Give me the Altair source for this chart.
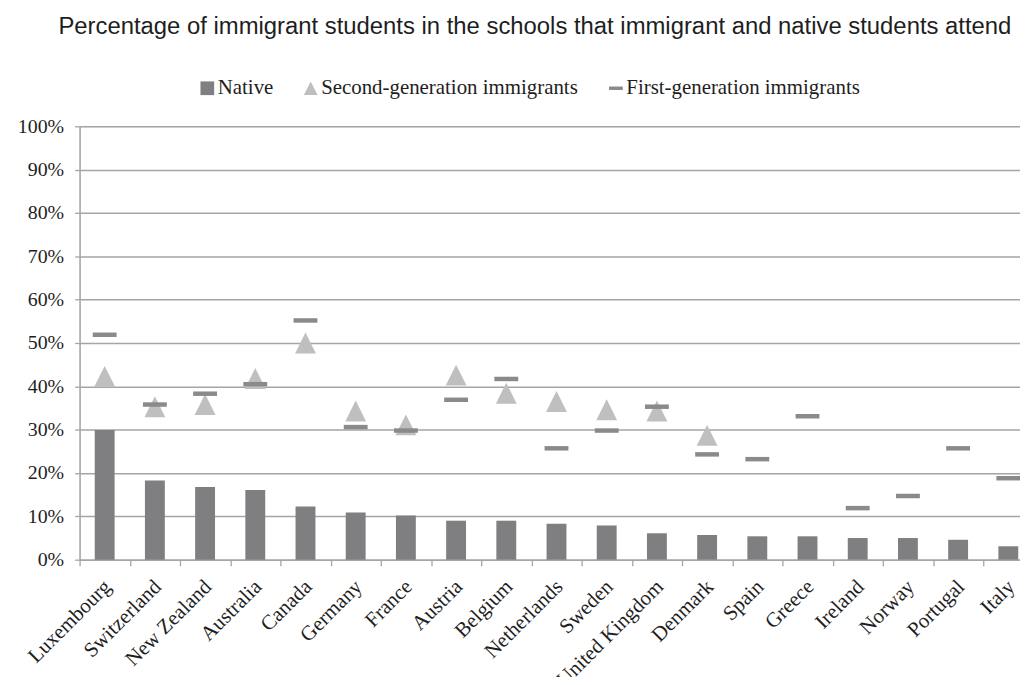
import altair as alt
import pandas as pd

countries = ["Luxembourg", "Switzerland", "New Zealand", "Australia", "Canada", "Germany",
             "France", "Austria", "Belgium", "Netherlands", "Sweden", "United Kingdom",
             "Denmark", "Spain", "Greece", "Ireland", "Norway", "Portugal", "Italy"]
native = [29.9, 18.3, 16.8, 16.1, 12.3, 10.9, 10.2, 9.0, 9.0, 8.3, 7.9, 6.1, 5.7, 5.4, 5.4, 5.0, 5.0, 4.6, 3.1]
second_gen = [42.3, 35.3, 35.8, 41.8, 50.0, 34.3, 31.1, 42.6, 38.4, 36.5, 34.6, 34.3, 28.7,
              None, None, None, None, None, None]
first_gen = [51.9, 35.8, 38.3, 40.5, 55.2, 30.6, 29.8, 36.9, 41.7, 25.7, 29.8, 35.3, 24.3,
             23.2, 33.1, 11.9, 14.7, 25.7, 18.8]
series = ["Native", "Second-generation immigrants", "First-generation immigrants"]
y_ticks = [0, 10, 20, 30, 40, 50, 60, 70, 80, 90, 100]

rows = []
for name, vals in zip(series, [native, second_gen, first_gen]):
    for c, v in zip(countries, vals):
        if v is not None:
            rows.append({"country": c, "series": name, "value": v})
df = pd.DataFrame(rows)

SERIF = "Liberation Serif"
TEXT = "#1e1e1e"
GRID = "#a5a5a5"

x = alt.X("country:N", sort=countries, title=None,
          scale=alt.Scale(domain=countries, range=[0, 959.5], paddingInner=0, paddingOuter=0),
          axis=alt.Axis(tickBand="extent", labelAngle=-45, labelAlign="right",
                        labelBaseline="alphabetic", labelOffset=7, labelPadding=22,
                        tickSize=6, tickColor=GRID, tickWidth=1.3, domainColor=GRID,
                        domainWidth=1.5, labelFont=SERIF, labelFontSize=21,
                        labelColor=TEXT, labelOverlap=False, labelBound=False,
                        labelFlush=False, labelLimit=300, grid=False))
y = alt.Y("value:Q", title=None,
          scale=alt.Scale(domain=[0, 100], nice=False),
          axis=alt.Axis(values=y_ticks, labelExpr="datum.value + '%'", grid=True,
                        gridColor=GRID, gridWidth=1.5, domainColor=GRID, domainWidth=1.5,
                        tickColor=GRID, tickSize=5, tickWidth=1.3, labelFont=SERIF,
                        labelFontSize=20, labelColor=TEXT, labelPadding=11))

legend = alt.Legend(title=None, orient="none", legendX=118, legendY=-49, direction="horizontal",
                    labelFont=SERIF, labelFontSize=21, labelColor=TEXT, symbolSize=190,
                    symbolStrokeWidth=0, columnPadding=27, labelOffset=0, symbolOpacity=1,
                    labelLimit=500)
color = alt.Color("series:N", scale=alt.Scale(domain=series, range=["#7f7f82", "#bfbfbf", "#8a8a8a"]),
                  legend=legend)
shape = alt.Shape("series:N", scale=alt.Scale(domain=series,
                  range=["square", "M0,-1L1,1L-1,1Z", "M-1,-0.25H1V0.25H-1Z"]), legend=legend)

bars = alt.Chart(df).transform_filter(alt.datum.series == "Native").mark_bar(width=20).encode(
    x=x, y=y, color=color)
tris = alt.Chart(df).transform_filter(alt.datum.series == "Second-generation immigrants").mark_point(
    filled=True, size=441, opacity=1, strokeWidth=0).encode(x=x, y=y, color=color, shape=shape)
dashes = alt.Chart(df).transform_filter(alt.datum.series == "First-generation immigrants").mark_tick(
    size=24, thickness=4.5, opacity=1).encode(x=x, y=y, color=color)

chart = alt.layer(bars, tris, dashes).properties(
    width=946, height=436,
    title=alt.Title("Percentage of immigrant students in the schools that immigrant and native students attend",
                    font="Liberation Sans", fontSize=24, fontWeight="normal", color=TEXT,
                    anchor="middle", baseline="alphabetic", offset=20, dx=-15),
    autosize=alt.AutoSizeParams(type="none"),
    padding={"left": 72, "top": 117, "right": 0, "bottom": 116},
).configure_view(stroke=None).configure(background="white")

chart.save("out.html", embed_options={"renderer": "svg", "actions": False})
